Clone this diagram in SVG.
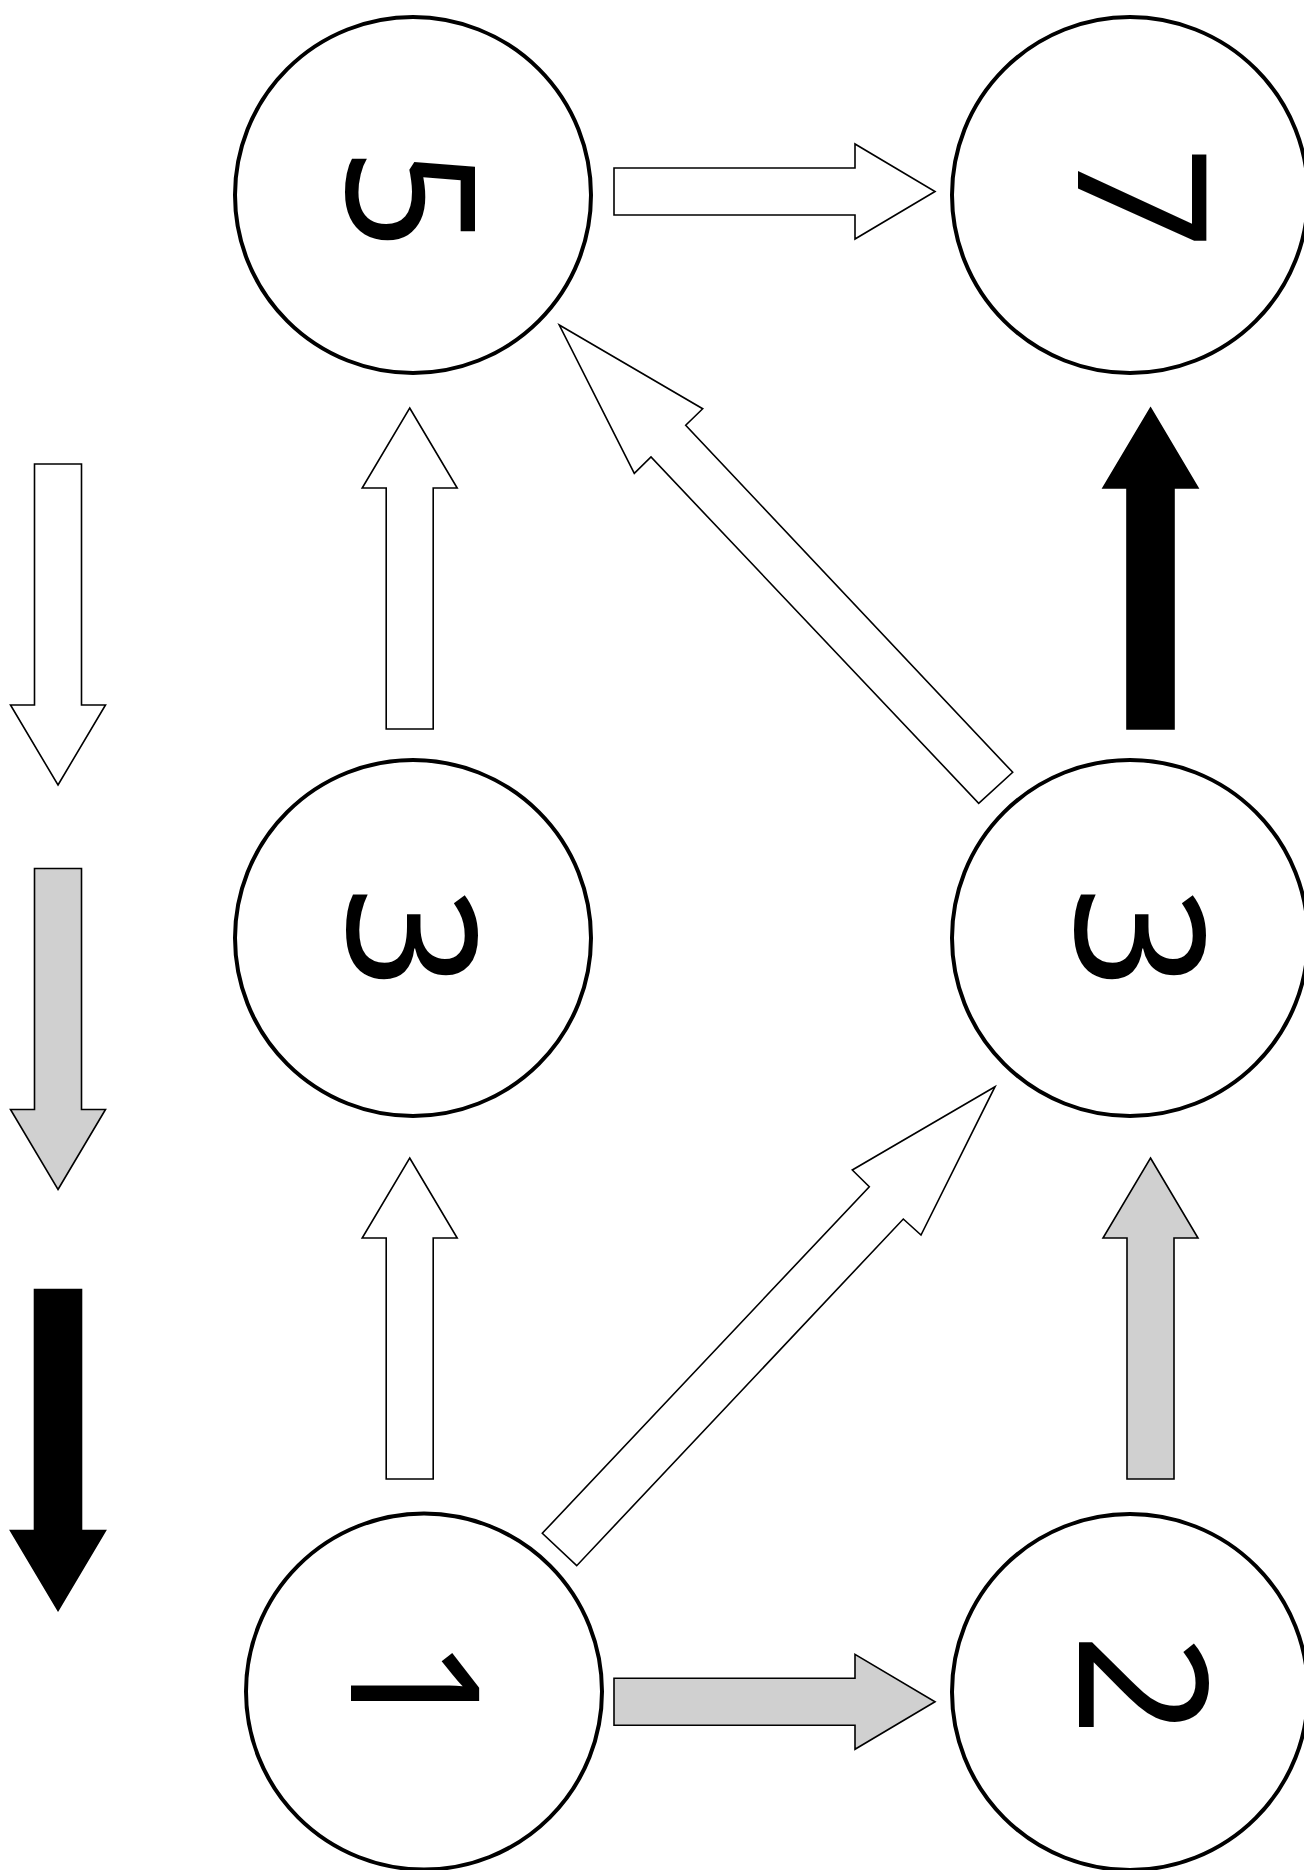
<svg xmlns="http://www.w3.org/2000/svg" width="1304" height="1870" viewBox="0 0 1304 1870">
<style>
.node{fill:#fff;stroke:#000;stroke-width:4}
.aw{fill:#fff;stroke:#000;stroke-width:1.6;stroke-linejoin:miter}
.ag{fill:#d0d0d0;stroke:#000;stroke-width:1.6}
.ab{fill:#000;stroke:#000;stroke-width:1.6}
</style>
<defs>
<polygon id="up" points="0,0 47.5,80 23.5,80 23.5,321 -23.5,321 -23.5,80 -47.5,80"/>
<polygon id="down" points="0,0 47.5,-80 23.5,-80 23.5,-321 -23.5,-321 -23.5,-80 -47.5,-80"/>
<polygon id="right" points="0,0 -80,47.5 -80,23.5 -321,23.5 -321,-23.5 -80,-23.5 -80,-47.5"/>
</defs>
<rect width="1304" height="1870" fill="#fff"/>
<g id="legend">
<use href="#down" x="58" y="785" class="aw"/>
<use href="#down" x="58" y="1189.5" class="ag"/>
<use href="#down" x="58" y="1610.5" class="ab"/>
</g>
<g id="connectors">
<use href="#right" x="935" y="191.5" class="aw"/>
<use href="#up" x="409.7" y="408" class="aw"/>
<use href="#up" x="409.7" y="1158" class="aw"/>
<use href="#up" x="1150.5" y="408" class="ab"/>
<use href="#up" x="1150.5" y="1158" class="ag"/>
<use href="#right" x="935" y="1701.8" class="ag"/>
<polygon class="aw" points="559.3,325 702.7,408.7 685.7,425.3 1012.7,772.3 978.7,803.3 651,457 634.3,473.3"/>
<polygon class="aw" points="995,1086.7 852.3,1170 869.3,1186.7 542.3,1533.3 576.7,1565.7 903.3,1219 921,1235"/>
</g>
<g font-family="'Noto Sans', 'Open Sans', sans-serif" font-size="180" font-weight="400" text-anchor="middle" fill="#000">
<g id="node-5">
<circle class="node" cx="413" cy="195" r="178"/>
<text transform="translate(413,195) rotate(90)" x="4" y="66">5</text>
</g>
<g id="node-7">
<circle class="node" cx="1130" cy="195" r="178"/>
<text transform="translate(1130,195) rotate(90)" x="3" y="52">7</text>
</g>
<g id="node-3-left">
<circle class="node" cx="413" cy="938" r="178"/>
<text transform="translate(413,938) rotate(90)" x="0" y="65">3</text>
</g>
<g id="node-3-right">
<circle class="node" cx="1130" cy="938" r="178"/>
<text transform="translate(1130,938) rotate(90)" x="0" y="54">3</text>
</g>
<g id="node-1">
<circle class="node" cx="424" cy="1691.5" r="178"/>
<text transform="translate(424,1691.5) rotate(90)" x="-3" y="73">1</text>
</g>
<g id="node-2">
<circle class="node" cx="1130" cy="1692" r="178"/>
<text transform="translate(1130,1692) rotate(90)" x="-7" y="51">2</text>
</g>
</g>
</svg>
